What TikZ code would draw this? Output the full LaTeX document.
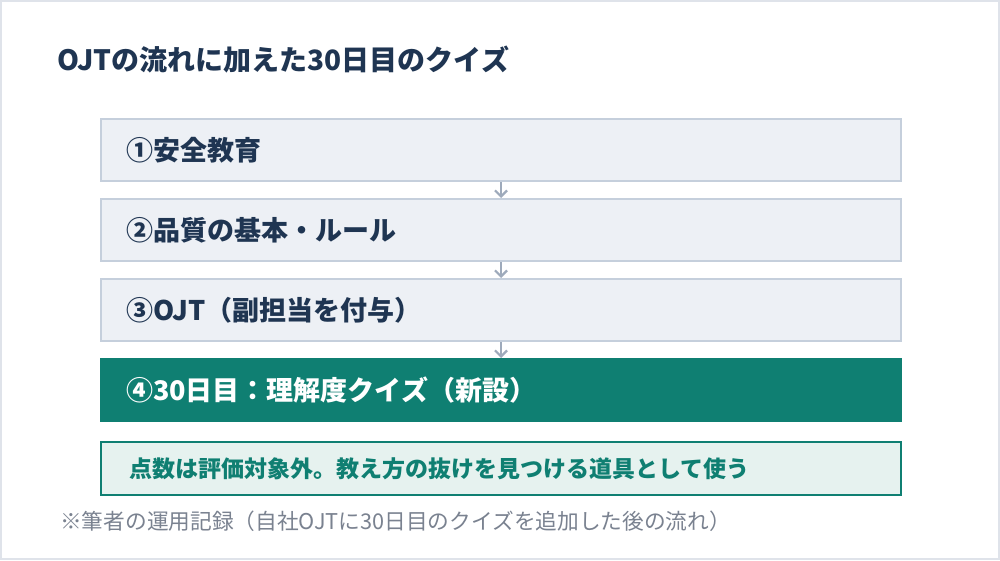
\documentclass[tikz,border=0pt]{standalone}
\usepackage{fontspec}
\setmainfont{Noto Sans CJK JP}
\usetikzlibrary{arrows.meta}
\definecolor{navy}{HTML}{1F3552}
\definecolor{boxfill}{HTML}{EDF0F5}
\definecolor{boxline}{HTML}{C5CFDC}
\definecolor{teal}{HTML}{0F7F72}
\definecolor{notefill}{HTML}{E6F2EF}
\definecolor{arr}{HTML}{9EAABB}
\definecolor{foot}{HTML}{7A8290}
\definecolor{frame}{HTML}{DFE3EA}
\tikzset{
  stepbox/.style={draw=boxline, line width=2pt, fill=boxfill, minimum width=800pt, minimum height=62pt,
    anchor=north west, text width=750pt, inner xsep=25pt, inner ysep=0pt, align=left,
    font=\fontsize{27}{32}\selectfont\bfseries, text=navy},
  newbox/.style={stepbox, draw=teal, fill=teal, text=white},
  notebox/.style={draw=teal, line width=2pt, fill=notefill, minimum width=800pt, minimum height=53pt,
    anchor=north west, text width=744pt, inner xsep=28pt, inner ysep=0pt, align=left,
    font=\fontsize{23}{27}\selectfont\bfseries, text=teal},
  flow/.style={draw=arr, line width=2.2pt, -{Straight Barb[length=6pt,width=12pt]}}
}
\begin{document}
\begin{tikzpicture}[x=1pt,y=-1pt]
\draw[frame, line width=2pt, fill=white] (1,1) rectangle (999,559);
\useasboundingbox (0,0) rectangle (1000,560);
\node[anchor=west, font=\fontsize{28}{32}\selectfont\bfseries, text=navy, inner sep=0pt] (title) at (57,60) {OJTの流れに加えた30日目のクイズ};
\node[stepbox] (s1) at (100,118) {①安全教育};
\node[stepbox] (s2) at (100,198) {②品質の基本・ルール};
\node[stepbox] (s3) at (100,278) {③OJT（副担当を付与）};
\node[newbox] (s4) at (100,358) {④30日目：理解度クイズ（新設）};
\node[notebox] (note) at (100,441) {点数は評価対象外。教え方の抜けを見つける道具として使う};
\node[anchor=west, font=\fontsize{21.7}{26}\selectfont, text=foot, inner sep=0pt] (fn) at (60,521) {※筆者の運用記録（自社OJTに30日目のクイズを追加した後の流れ）};
\draw[flow] (s1.south) -- (s2.north);
\draw[flow] (s2.south) -- (s3.north);
\draw[flow] (s3.south) -- (s4.north);
\end{tikzpicture}
\end{document}
